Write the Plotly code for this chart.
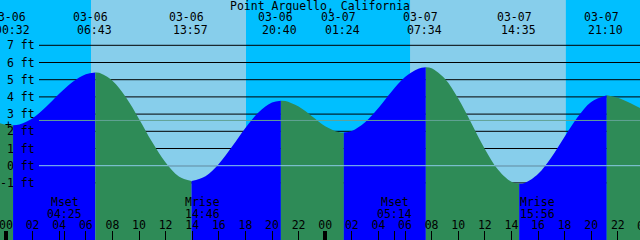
import plotly.graph_objects as go

# ---------------- data (hours since 03-06 00:00, heights in feet) ----------------
tide_hours = [-0.451, 0, 0.533, 1, 2, 3, 4, 5, 6, 6.717, 7, 8, 9, 10, 11, 12, 13, 13.95,
              15, 16, 17, 18, 19, 20, 20.667, 21, 22, 23, 24, 25, 25.4, 26, 27, 28, 29, 30, 31,
              31.567, 32, 33, 34, 35, 36, 37, 38, 38.583, 39, 40, 41, 42, 43, 44, 45.167,
              46, 47, 47.669]
tide_ft = [2.47, 2.38, 2.35, 2.39, 2.76, 3.41, 4.18, 4.87, 5.32, 5.42, 5.40, 4.94, 3.99, 2.72,
           1.36, 0.18, -0.63, -0.89, -0.61, 0.10, 1.11, 2.19, 3.11, 3.67, 3.78, 3.76, 3.44, 2.88,
           2.30, 1.96, 1.93, 2.02, 2.53, 3.36, 4.32, 5.15, 5.64, 5.72, 5.66, 5.05, 3.90, 2.45,
           0.97, -0.24, -0.94, -1.05, -1.00, -0.48, 0.48, 1.68, 2.84, 3.71, 4.10, 3.95, 3.62, 3.35]

extreme_hours = [0.533, 6.717, 13.95, 20.667, 25.4, 31.567, 38.583, 45.167]
extreme_dates = ["03-06", "03-06", "03-06", "03-06", "03-07", "03-07", "03-07", "03-07"]
extreme_times = ["00:32", "06:43", "13:57", "20:40", "01:24", "07:34", "14:35", "21:10"]

moon_hours = [4.417, 14.767, 29.233, 39.933]
moon_names = ["Mset", "Mrise", "Mset", "Mrise"]
moon_times = ["04:25", "14:46", "05:14", "15:56"]

sun_hours = [6.39, 18.05, 30.38, 42.1]   # sunrise, sunset, sunrise, sunset

depth_ticks = [-1, 0, 1, 2, 3, 4, 5, 6, 7]
depth_labels = ["-1 ft", "0 ft", "1 ft", "2 ft", "3 ft", "4 ft", "5 ft", "6 ft", "7 ft"]
msl_ft = 2.63
datum_ft = 0

hour_ticks = list(range(0, 48, 2))
hour_labels = ["%02d" % (h % 24) for h in hour_ticks]
last_hour_tick, last_hour_label = 48, "00"
midnights = [0, 24]

title = "Point Arguello, California"

# ---------------- styling ----------------
X0, X1 = -0.451, 47.669
Y0, Y1 = -4.32, 9.634
W, H = 640, 240
NIGHT, DAY = "#00BFFF", "#87CEEB"
FLOOD, EBB = "#0000FF", "#2E8B57"
FONT = dict(family="DejaVu Sans Mono", size=11.5, color="black")

fig = go.Figure()

# tide fill segments (rising = flood colour, falling = ebb colour)
bounds = [X0] + extreme_hours + [X1]
for a, b in zip(bounds[:-1], bounds[1:]):
    xs = [t for t in tide_hours if a - 1e-6 <= t <= b + 1e-6]
    ys = [tide_ft[tide_hours.index(t)] for t in xs]
    col = FLOOD if ys[-1] > ys[0] else EBB
    fig.add_trace(go.Scatter(x=[xs[0], xs[-1]], y=[-10, -10], mode="lines",
                             line=dict(width=0, color=col), hoverinfo="skip", showlegend=False))
    fig.add_trace(go.Scatter(x=xs, y=ys, mode="lines", fill="tonexty", fillcolor=col,
                             line=dict(width=0, color=col, shape="spline"),
                             hoverinfo="skip", showlegend=False))

shapes = []
# day / night sky
edges = [X0] + sun_hours + [X1]
for i, (a, b) in enumerate(zip(edges[:-1], edges[1:])):
    shapes.append(dict(type="rect", xref="x", yref="paper", x0=a, x1=b, y0=0, y1=1,
                       fillcolor=NIGHT if i % 2 == 0 else DAY, line=dict(width=0), layer="below"))
# depth lines (behind the water)
for v in depth_ticks:
    shapes.append(dict(type="line", xref="paper", yref="y", x0=39 / W, x1=1, y0=v, y1=v,
                       line=dict(color="black", width=1), layer="between"))
# mean sea level and datum lines (over the water)
shapes.append(dict(type="line", xref="paper", yref="y", x0=39 / W, x1=1, y0=msl_ft, y1=msl_ft,
                   line=dict(color="#62a295", width=1), layer="above"))
shapes.append(dict(type="line", xref="paper", yref="y", x0=39 / W, x1=1, y0=datum_ft, y1=datum_ft,
                   line=dict(color="#8ccbe8", width=1), layer="above"))

ann = []
ann.append(dict(text=title, xref="paper", yref="paper", x=0.5, y=1 - 6 / H, showarrow=False,
                font=FONT, xanchor="center", yanchor="middle"))
for t, d, s in zip(extreme_hours, extreme_dates, extreme_times):
    ann.append(dict(text=d, xref="x", yref="paper", x=t, y=1 - 17.5 / H, xshift=-5,
                    showarrow=False, font=FONT, xanchor="center", yanchor="middle"))
    ann.append(dict(text=s, xref="x", yref="paper", x=t, y=1 - 29.5 / H, xshift=-1,
                    showarrow=False, font=FONT, xanchor="center", yanchor="middle"))
for t, n, s in zip(moon_hours, moon_names, moon_times):
    ann.append(dict(text=n, xref="x", yref="paper", x=t, y=1 - 201.5 / H,
                    showarrow=False, font=FONT, xanchor="center", yanchor="middle"))
    ann.append(dict(text=s, xref="x", yref="paper", x=t, y=1 - 213.8 / H,
                    showarrow=False, font=FONT, xanchor="center", yanchor="middle"))
for v, lab in zip(depth_ticks, depth_labels):
    ann.append(dict(text=lab, xref="paper", yref="y", x=36.5 / W, y=v, showarrow=False,
                    font=FONT, xanchor="right", yanchor="middle"))
ann.append(dict(text="+", xref="paper", yref="y", x=8.5 / W, y=2.36, showarrow=False,
                font=FONT, xanchor="center", yanchor="middle"))
# hour label just past the right edge (partly visible)
ann.append(dict(text=last_hour_label, xref="paper", yref="paper",
                x=(last_hour_tick - X0) / (X1 - X0), y=1 - 226 / H, showarrow=False,
                font=FONT, xanchor="center", yanchor="middle"))

# moonset events get an extra tick mark on the time axis
moonset_ticks = [t for t, n in zip(moon_hours, moon_names) if n == "Mset"]

axis_common = dict(range=[X0, X1], showgrid=False, zeroline=False, showline=False,
                   ticks="inside", ticklen=9, tickcolor="black")
fig.update_layout(
    width=W, height=H, margin=dict(l=0, r=0, t=0, b=0),
    paper_bgcolor=NIGHT, plot_bgcolor=NIGHT,
    showlegend=False, shapes=shapes, annotations=ann,
    xaxis=dict(**axis_common, tickvals=hour_ticks, ticktext=hour_labels, tickwidth=1,
               ticklabelposition="inside", ticklabeloverflow="allow",
               ticklabelstandoff=-1, tickfont=FONT),
    xaxis2=dict(**axis_common, overlaying="x", anchor="y", side="bottom", tickvals=midnights,
                tickwidth=4, showticklabels=False),
    xaxis3=dict(**axis_common, overlaying="x", anchor="y", side="bottom", tickvals=moonset_ticks,
                tickwidth=1, showticklabels=False),
    yaxis=dict(range=[Y0, Y1], showgrid=False, zeroline=False, showticklabels=False,
               ticks=""),
)
# dummy traces so the overlay axes are drawn
fig.add_trace(go.Scatter(x=[X0], y=[Y0 - 5], xaxis="x2", mode="markers", showlegend=False,
                         hoverinfo="skip"))
fig.add_trace(go.Scatter(x=[X0], y=[Y0 - 5], xaxis="x3", mode="markers", showlegend=False,
                         hoverinfo="skip"))

fig.write_html("out.html")
